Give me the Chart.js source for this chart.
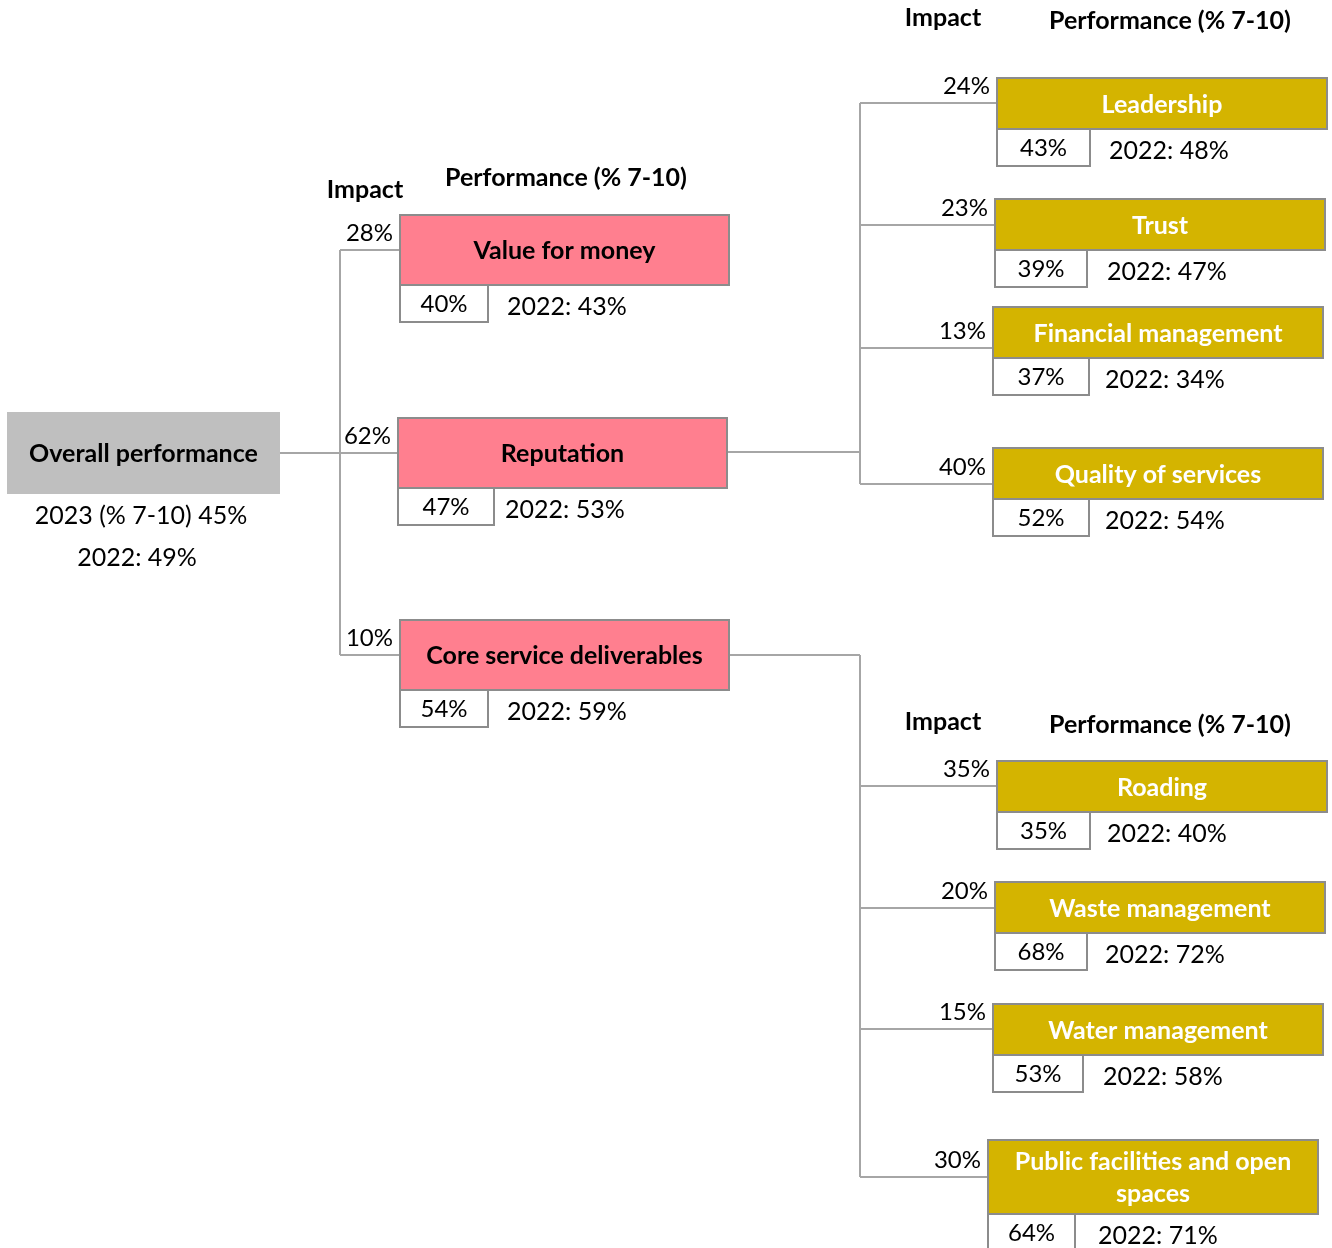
<!DOCTYPE html>
<html>
<head>
<meta charset="utf-8">
<script src="https://cdn.jsdelivr.net/npm/chart.js@4.4.1/dist/chart.umd.min.js"></script>
<style>
  html, body { margin: 0; padding: 0; background: #fff; }
  #wrap { width: 1332px; height: 1248px; position: relative; }
</style>
</head>
<body>
<div id="wrap"><canvas id="tree"></canvas></div>
<script>
// overall score
const overallLabel = "Overall performance";
const overallScore = 45;
const overallPrev = 49;

// first level drivers
const driverNames = ["Value for money", "Reputation", "Core service deliverables"];
const driverImpact = [28, 62, 10];
const driverScore = [40, 47, 54];
const driverPrev = [43, 53, 59];

// reputation sub-drivers
const repNames = ["Leadership", "Trust", "Financial management", "Quality of services"];
const repImpact = [24, 23, 13, 40];
const repScore = [43, 39, 37, 52];
const repPrev = [48, 47, 34, 54];

// core service sub-drivers
const coreNames = ["Roading", "Waste management", "Water management", "Public facilities and open spaces"];
const coreImpact = [35, 20, 15, 30];
const coreScore = [35, 68, 53, 64];
const corePrev = [40, 72, 58, 71];

// layout, in scale units (scales run 0..1332 across and 0..1248 down)
const W = 1332, H = 1248;
const overallPos = { x: 7, y: 412, w: 273, h: 82 };
const driverLeft = [400, 398, 400];
const driverTop = [215, 418, 620];
const driverBranch = [250, 453, 655];
const driverTrunk = 340;
const repLeft = [997, 995, 993, 993];
const repTop = [78, 199, 307, 448];
const repBranch = [103, 225, 348, 484];
const coreLeft = [997, 995, 993, 988];
const coreTop = [761, 882, 1004, 1140];
const coreBranch = [786, 908, 1029, 1177];
const subTrunk = 860;

const FONT = "Lato, 'Open Sans', sans-serif";
const LINE = "#a6a6a6";
const EDGE = "#8c8c8c";
const PINK = "#ff7f8f";
const GOLD = "#d4b400";
const GREY = "#bfbfbf";

function pts(lefts, tops) {
  return lefts.map((x, i) => ({ x: x, y: tops[i] }));
}

const groups = [
  { names: driverNames, impact: driverImpact, score: driverScore, prev: driverPrev,
    fill: PINK, text: "#000", w: 329, h: [70, 70, 70], perfW: [88, 96, 88], prevGap: 107,
    branch: driverBranch, trunk: driverTrunk, from: { x: overallPos.x + overallPos.w, y: 453 } },
  { names: repNames, impact: repImpact, score: repScore, prev: repPrev,
    fill: GOLD, text: "#fff", w: 330, h: [51, 51, 51, 51], perfW: [93, 92, 96, 96], prevGap: 112,
    branch: repBranch, trunk: subTrunk, from: { x: 726, y: 452 } },
  { names: coreNames, impact: coreImpact, score: coreScore, prev: corePrev,
    fill: GOLD, text: "#fff", w: 330, h: [51, 51, 51, 74], perfW: [93, 92, 90, 87], prevGap: 110,
    branch: coreBranch, trunk: subTrunk, from: { x: 729, y: 655 } }
];

const headers = [
  { x: 365, y: 190, impact: true }, { x: 566, y: 178 },
  { x: 943, y: 18, impact: true }, { x: 1170, y: 21 },
  { x: 943, y: 722, impact: true }, { x: 1170, y: 725 }
];

function wrapText(ctx, text, maxW) {
  const words = text.split(" ");
  const lines = [];
  let cur = "";
  words.forEach(w => {
    const t = cur ? cur + " " + w : w;
    if (ctx.measureText(t).width > maxW && cur) {
      lines.push(cur);
      cur = w;
    } else {
      cur = t;
    }
  });
  lines.push(cur);
  return lines;
}

const treePlugin = {
  id: "treeDiagram",
  afterDatasetsDraw(chart) {
    const ctx = chart.ctx;
    const sx = chart.scales.x, sy = chart.scales.y;
    const px = v => sx.getPixelForValue(v);
    const py = v => sy.getPixelForValue(v);

    ctx.save();
    ctx.textBaseline = "middle";

    // connectors: parent stub + vertical trunk
    ctx.strokeStyle = LINE;
    ctx.lineWidth = 2;
    groups.forEach(g => {
      const t = px(g.trunk);
      const ys = g.branch.concat([g.from.y]);
      ctx.beginPath();
      ctx.moveTo(px(g.from.x), py(g.from.y));
      ctx.lineTo(t, py(g.from.y));
      ctx.moveTo(t, py(Math.min(...ys)));
      ctx.lineTo(t, py(Math.max(...ys)));
      ctx.stroke();
    });

    // overall box
    const oMeta = chart.getDatasetMeta(0).data[0];
    const ox = oMeta.x, oy = oMeta.y;
    const ow = px(overallPos.x + overallPos.w) - ox, oh = py(overallPos.y + overallPos.h) - oy;
    ctx.fillStyle = GREY;
    ctx.fillRect(ox, oy, ow, oh);
    ctx.fillStyle = "#000";
    ctx.textAlign = "center";
    ctx.font = "bold 25px " + FONT;
    ctx.fillText(overallLabel, ox + ow / 2, oy + oh / 2 + 1);
    ctx.font = "25px " + FONT;
    ctx.fillText("2023 (% 7-10) " + overallScore + "%", px(141), py(516));
    ctx.fillText("2022: " + overallPrev + "%", px(137), py(558));

    // nodes
    groups.forEach((g, gi) => {
      const meta = chart.getDatasetMeta(gi + 1);
      meta.data.forEach((el, i) => {
        const x = el.x, y = el.y;
        const w = px(g.w) - px(0), h = py(g.h[i]) - py(0);
        const by = py(g.branch[i]);

        // branch from the trunk
        ctx.strokeStyle = LINE;
        ctx.lineWidth = 2;
        ctx.beginPath();
        ctx.moveTo(px(g.trunk), by);
        ctx.lineTo(x, by);
        ctx.stroke();

        // impact label
        ctx.fillStyle = "#000";
        ctx.textAlign = "right";
        ctx.font = "24px " + FONT;
        ctx.fillText(g.impact[i] + "%", x - 7, by - 17);

        // coloured name box
        ctx.fillStyle = g.fill;
        ctx.fillRect(x, y, w, h);
        ctx.strokeStyle = EDGE;
        ctx.lineWidth = 2;
        ctx.strokeRect(x, y, w, h);
        ctx.fillStyle = g.text;
        ctx.textAlign = "center";
        ctx.font = "bold 25px " + FONT;
        const lines = wrapText(ctx, g.names[i], w - 24);
        const lh = 32;
        lines.forEach((ln, k) => {
          ctx.fillText(ln, x + w / 2, y + h / 2 + 1 + (k - (lines.length - 1) / 2) * lh);
        });

        // performance box + previous year
        const pw = px(g.perfW[i]) - px(0), ph = py(37) - py(0);
        ctx.fillStyle = "#fff";
        ctx.fillRect(x, y + h, pw, ph);
        ctx.strokeStyle = EDGE;
        ctx.strokeRect(x, y + h, pw, ph);
        ctx.fillStyle = "#000";
        ctx.font = "24px " + FONT;
        ctx.fillText(g.score[i] + "%", x + pw / 2, y + h + ph / 2 + 1);
        ctx.textAlign = "left";
        ctx.font = "25px " + FONT;
        ctx.fillText("2022: " + g.prev[i] + "%", x + g.prevGap, y + h + ph / 2 + 3);
      });
    });

    // column headers
    ctx.fillStyle = "#000";
    ctx.textAlign = "center";
    ctx.font = "bold 25px " + FONT;
    headers.forEach(hd => {
      ctx.fillText(hd.impact ? "Impact" : "Performance (% 7-10)", px(hd.x), py(hd.y));
    });
    ctx.restore();
  }
};

new Chart(document.getElementById("tree"), {
  type: "scatter",
  data: {
    datasets: [
      { label: "Overall", data: [{ x: overallPos.x, y: overallPos.y }], pointRadius: 0 },
      { label: "Drivers", data: pts(driverLeft, driverTop), pointRadius: 0 },
      { label: "Reputation", data: pts(repLeft, repTop), pointRadius: 0 },
      { label: "Core services", data: pts(coreLeft, coreTop), pointRadius: 0 }
    ]
  },
  options: {
    responsive: true,
    maintainAspectRatio: false,
    animation: false,
    layout: { padding: 0 },
    plugins: { legend: { display: false }, tooltip: { enabled: false } },
    scales: {
      x: { type: "linear", min: 0, max: W, display: false },
      y: { type: "linear", min: 0, max: H, reverse: true, display: false }
    }
  },
  plugins: [treePlugin]
});
</script>
</body>
</html>
